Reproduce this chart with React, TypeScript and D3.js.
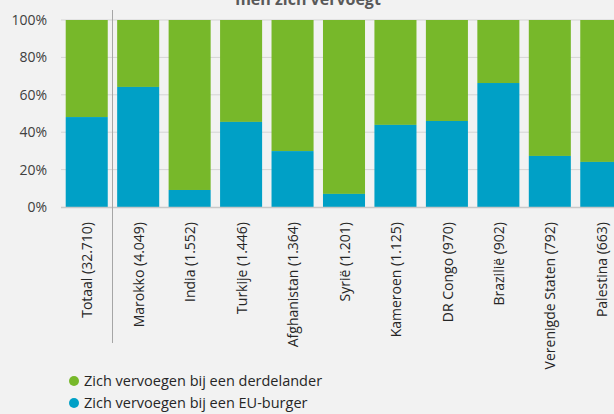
import * as d3 from 'd3';
import { useEffect, useRef } from 'react';

const categories = [
    'Totaal (32.710)', 'Marokko (4.049)', 'India (1.552)', 'Turkije (1.446)',
    'Afghanistan (1.364)', 'Syrië (1.201)', 'Kameroen (1.125)', 'DR Congo (970)',
    'Brazilië (902)', 'Verenigde Staten (792)', 'Palestina (663)'
];
// share (%) joining an EU citizen; the rest joins a third-country national
const euBurger = [48.1, 64.2, 9.1, 45.5, 29.9, 7.0, 43.9, 46.0, 66.3, 27.3, 24.1];
const derdelander = euBurger.map((v) => 100 - v);
const yTicks = [0, 20, 40, 60, 80, 100];
const seriesNames = ['Zich vervoegen bij een derdelander', 'Zich vervoegen bij een EU-burger'];

const GREEN = '#77b82a';
const BLUE = '#00a0c6';

export default function App() {
    const svgRef = useRef<SVGSVGElement>(null);
    const width = 614;
    const height = 414;
    const margin = { top: 20, left: 61, bottom: 207 };

    useEffect(() => {
        const svg = d3.select(svgRef.current);
        svg.selectAll('*').remove();

        const font = '"Open Sans", sans-serif';
        const x = d3.scaleBand().domain(categories).range([margin.left, 627]).paddingInner(0.183).paddingOuter(0.0915);
        const y = d3.scaleLinear().domain([0, 100]).range([margin.bottom, margin.top]);

        svg.append('rect').attr('width', width).attr('height', height).attr('fill', '#f2f2f2');

        // second line of the title, the first one is above the visible area
        svg.append('text')
            .attr('x', 308)
            .attr('y', 5)
            .attr('text-anchor', 'middle')
            .style('font-family', font)
            .style('font-size', '16px')
            .style('font-weight', '700')
            .attr('fill', '#595959')
            .text('men zich vervoegt');

        svg.append('g')
            .selectAll('line')
            .data(yTicks.filter((t) => t > 0))
            .enter()
            .append('line')
            .attr('x1', margin.left)
            .attr('x2', width)
            .attr('y1', (t) => y(t))
            .attr('y2', (t) => y(t))
            .attr('stroke', '#d4d4d4')
            .attr('stroke-width', 1);

        svg.append('g')
            .selectAll('text')
            .data(yTicks)
            .enter()
            .append('text')
            .attr('x', 47)
            .attr('y', (t) => y(t))
            .attr('dy', '0.35em')
            .attr('text-anchor', 'end')
            .style('font-family', font)
            .style('font-size', '14px')
            .attr('fill', '#404040')
            .text((t) => `${t}%`);

        const bars = svg.append('g');
        bars.selectAll('.green')
            .data(categories)
            .enter()
            .append('rect')
            .attr('x', (c) => x(c) || 0)
            .attr('y', y(100))
            .attr('width', x.bandwidth())
            .attr('height', (c, i) => y(0) - y(derdelander[i]))
            .attr('fill', GREEN);

        bars.selectAll('.blue')
            .data(categories)
            .enter()
            .append('rect')
            .attr('x', (c) => x(c) || 0)
            .attr('y', (c, i) => y(euBurger[i]))
            .attr('width', x.bandwidth())
            .attr('height', (c, i) => y(0) - y(euBurger[i]))
            .attr('fill', BLUE);

        svg.append('line')
            .attr('x1', margin.left)
            .attr('x2', width)
            .attr('y1', y(0) + 0.5)
            .attr('y2', y(0) + 0.5)
            .attr('stroke', '#c8c8c8')
            .attr('stroke-width', 1.5);

        // separator between total and countries
        const sepX = Math.round((x(categories[0]) || 0) + x.bandwidth() + x.step() * 0.0915) + 0.5;
        svg.append('line')
            .attr('x1', sepX)
            .attr('x2', sepX)
            .attr('y1', 10)
            .attr('y2', 343)
            .attr('stroke', '#a6a6a6')
            .attr('stroke-width', 1);

        svg.append('g')
            .selectAll('text')
            .data(categories)
            .enter()
            .append('text')
            .attr('transform', (c) => `translate(${(x(c) || 0) + x.bandwidth() / 2},222) rotate(-90)`)
            .attr('text-anchor', 'end')
            .attr('dy', '0.4em')
            .style('font-family', font)
            .style('font-size', '14px')
            .attr('fill', '#262626')
            .text((c) => c);

        const legend = svg.append('g')
            .selectAll('g')
            .data(seriesNames)
            .enter()
            .append('g')
            .attr('transform', (d, i) => `translate(74,${381 + i * 22})`);
        legend.append('circle').attr('r', 5).attr('fill', (d, i) => (i === 0 ? GREEN : BLUE));
        legend.append('text')
            .attr('x', 10)
            .attr('dy', '0.36em')
            .style('font-family', font)
            .style('font-size', '14.5px')
            .attr('fill', '#262626')
            .text((d) => d);
    }, []);

    return (
        <svg ref={svgRef} width={width} height={height} style={{ position: 'absolute', left: 0, top: 0 }}></svg>
    );
}
